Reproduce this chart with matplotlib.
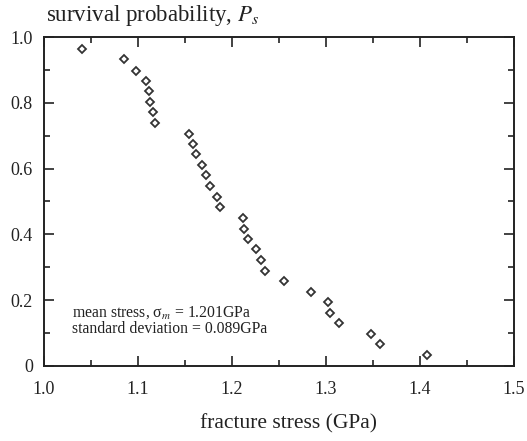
import matplotlib
matplotlib.use("Agg")
import matplotlib.pyplot as plt
from matplotlib.ticker import MultipleLocator

plt.rcParams['font.family'] = ['Liberation Serif', 'DejaVu Serif']
plt.rcParams['mathtext.fontset'] = 'stix'

stress = [1.040, 1.085, 1.098, 1.108, 1.112, 1.113, 1.116, 1.118, 1.154, 1.159,
          1.162, 1.168, 1.172, 1.177, 1.184, 1.187, 1.212, 1.213, 1.217, 1.226,
          1.231, 1.235, 1.255, 1.284, 1.302, 1.304, 1.314, 1.348, 1.357, 1.407]
survival = [0.963, 0.933, 0.898, 0.866, 0.835, 0.803, 0.772, 0.739, 0.706, 0.675,
            0.643, 0.612, 0.580, 0.547, 0.515, 0.482, 0.451, 0.417, 0.386, 0.355,
            0.322, 0.290, 0.257, 0.226, 0.195, 0.162, 0.131, 0.098, 0.066, 0.034]
xticks = [1.0, 1.1, 1.2, 1.3, 1.4, 1.5]
xticklabels = ['1.0', '1.1', '1.2', '1.3', '1.4', '1.5']
yticks = [0, 0.2, 0.4, 0.6, 0.8, 1.0]
yticklabels = ['0', '0.2', '0.4', '0.6', '0.8', '1.0']

fig = plt.figure(figsize=(5.27, 4.41), dpi=100)
ax = fig.add_axes([44/527, 75/441, 470/527, 329/441])

ax.plot(stress, survival, linestyle='none', marker='D', markersize=4,
        markerfacecolor='white', markeredgecolor='#333333', markeredgewidth=1.3)

ax.set_xlim(1.0, 1.5)
ax.set_ylim(0, 1.0)
ax.set_xticks(xticks)
ax.set_xticklabels(xticklabels)
ax.set_yticks(yticks)
ax.set_yticklabels(yticklabels)
ax.xaxis.set_minor_locator(MultipleLocator(0.05))
ax.yaxis.set_minor_locator(MultipleLocator(0.1))
ax.tick_params(which='both', direction='in', top=True, right=True,
               labelsize=13, colors='#222222', width=1.2)
ax.tick_params(which='major', length=7)
ax.tick_params(axis='x', which='major', pad=11)
ax.tick_params(axis='y', which='major', pad=8)
ax.tick_params(which='minor', length=4)
for s in ax.spines.values():
    s.set_linewidth(1.4)
    s.set_color('#222222')

ax.set_xlabel('fracture stress (GPa)', fontsize=15.5, color='#222222', va='center')
ax.xaxis.set_label_coords(0.521, -(424 - 366) / 329)
fig.text(46/527, 1 - 15/441, r'survival probability, $P_s$', fontsize=16.5,
         ha='left', va='center', color='#222222')

ax.text(1.030, 0.161, r'mean stress, σ${}_m$ = 1.201GPa', fontsize=11.3,
        ha='left', va='center', color='#222222')
ax.text(1.030, 0.112, 'standard deviation = 0.089GPa', fontsize=11.3,
        ha='left', va='center', color='#222222')

fig.savefig('out.png', dpi=100)
